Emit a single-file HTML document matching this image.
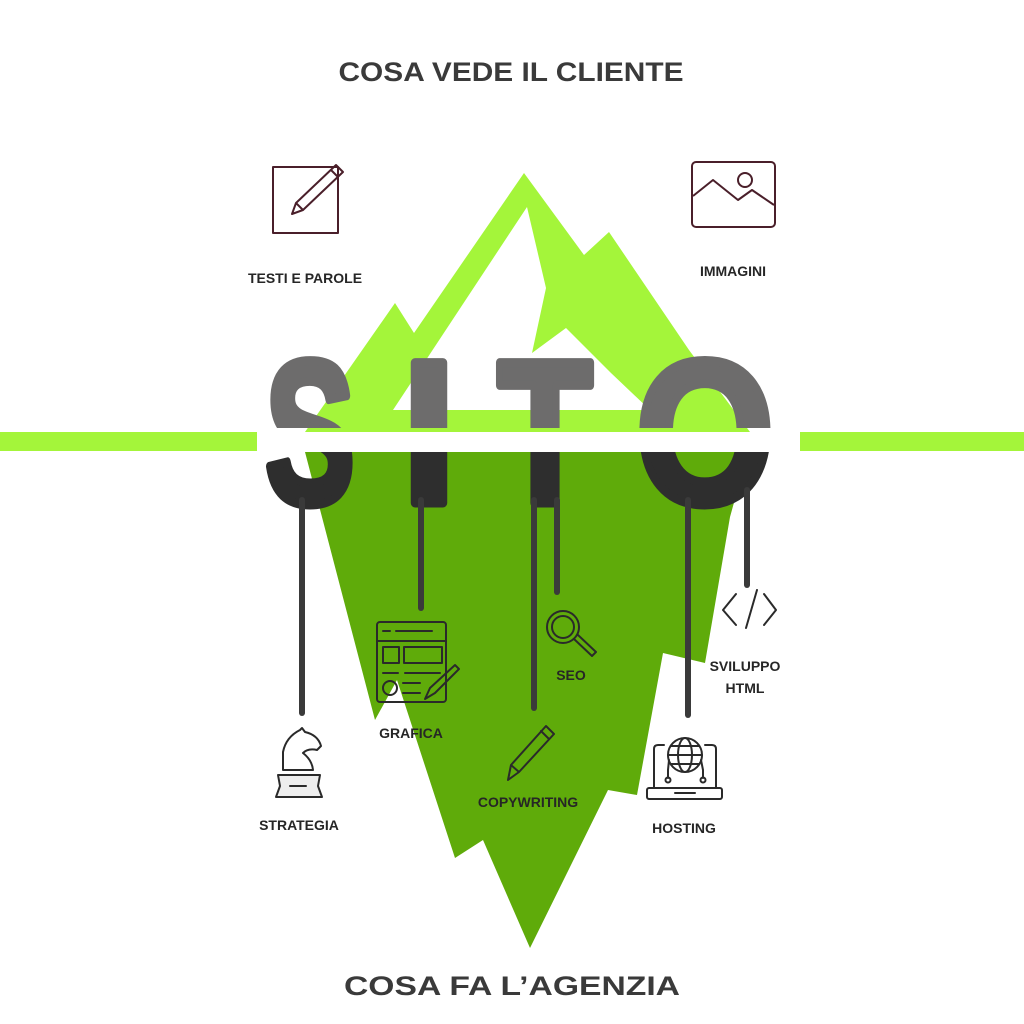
<!DOCTYPE html>
<html><head><meta charset="utf-8"><style>
html,body{margin:0;padding:0;background:#fff;}
svg{display:block;}
.lbl{font-family:"Liberation Sans",sans-serif;font-size:14px;font-weight:bold;fill:#262626;text-anchor:middle;}
.ic{fill:none;stroke:#2a2a2a;stroke-width:2;stroke-linecap:round;stroke-linejoin:round;}
.mr{fill:none;stroke:#4a1f2a;stroke-width:2;stroke-linejoin:round;}
</style></head><body>
<svg width="1024" height="1024" viewBox="0 0 1024 1024" xmlns="http://www.w3.org/2000/svg">
<defs>
<clipPath id="top"><rect x="0" y="0" width="1024" height="428"/></clipPath>
<clipPath id="bot"><rect x="0" y="452" width="1024" height="572"/></clipPath>
</defs>
<rect width="1024" height="1024" fill="#fff"/>
<!-- titles -->
<text x="511" y="81" textLength="345" lengthAdjust="spacingAndGlyphs" font-family="Liberation Sans,sans-serif" font-weight="bold" font-size="27" fill="#3a3a3a" text-anchor="middle">COSA VEDE IL CLIENTE</text>
<text x="512" y="995" textLength="336" lengthAdjust="spacingAndGlyphs" font-family="Liberation Sans,sans-serif" font-weight="bold" font-size="27" fill="#3a3a3a" text-anchor="middle">COSA FA L’AGENZIA</text>

<!-- upper mountain -->
<path d="M524,173 L584,255 L609,232 L689,350 L750,432 L305,432 L395,303 L414,333 Z" fill="#a4f53a"/>
<path d="M527,207 L546,288 L532,353 L566,328 L611,373 L650,410 L393,410 Z" fill="#fff"/>
<!-- lower iceberg -->
<path d="M305,452 L748,452 L730,517 L705,663 L663,653 L637,795 L608,790 L530,948 L483,840 L455,858 L397,680 L375,720 Z" fill="#5fab0a"/>

<!-- side water lines -->
<rect x="0" y="432" width="257" height="19" fill="#a4f53a"/>
<rect x="800" y="432" width="224" height="19" fill="#a4f53a"/>

<!-- SITO -->
<g font-family="Liberation Sans,sans-serif" font-weight="bold" font-size="204" text-anchor="middle" stroke-width="9" stroke-linejoin="round">
<g clip-path="url(#top)" fill="#6d6c6c" stroke="#6d6c6c">
<text transform="translate(310,503) scale(0.66,1)">S</text>
<text transform="translate(429,503) scale(0.95,1)">I</text>
<text transform="translate(545,503) scale(0.76,1)">T</text>
<text transform="translate(705,503) scale(0.87,1)">O</text>
</g>
<g clip-path="url(#bot)" fill="#2e2e2e" stroke="#2e2e2e">
<text transform="translate(310,503) scale(0.66,1)">S</text>
<text transform="translate(429,503) scale(0.95,1)">I</text>
<text transform="translate(545,503) scale(0.76,1)">T</text>
<text transform="translate(705,503) scale(0.87,1)">O</text>
</g>
</g>

<!-- hanging lines -->
<g stroke="#3a3a3a" stroke-width="6" stroke-linecap="round">
<line x1="302" y1="500" x2="302" y2="713"/>
<line x1="421" y1="500" x2="421" y2="608"/>
<line x1="534" y1="500" x2="534" y2="708"/>
<line x1="557" y1="500" x2="557" y2="592"/>
<line x1="688" y1="500" x2="688" y2="715"/>
<line x1="747" y1="490" x2="747" y2="585"/>
</g>

<!-- top icons -->
<rect x="273" y="167" width="65" height="66" class="mr"/>
<path d="M292,214 L296,203 L336,165 L343,172 L303,210 Z M296,203 L303,210 M331,170 L338,177" class="mr" fill="#eee"/>
<rect x="692" y="162" width="83" height="65" rx="4" class="mr"/>
<path d="M693,196 L713,180 L738,200 L752,190 L774,205" class="mr"/>
<circle cx="745" cy="180" r="7" class="mr" fill="#e8e8e8"/>
<text x="305" y="283" class="lbl">TESTI E PAROLE</text>
<text x="733" y="276" class="lbl">IMMAGINI</text>

<!-- grafica icon -->
<g class="ic">
<rect x="377" y="622" width="69" height="80" rx="3"/>
<line x1="377" y1="641" x2="446" y2="641"/>
<line x1="383" y1="631" x2="390" y2="631"/><line x1="396" y1="631" x2="432" y2="631"/>
<rect x="383" y="647" width="16" height="16"/><rect x="404" y="647" width="38" height="16"/>
<line x1="383" y1="673" x2="398" y2="673"/><line x1="405" y1="673" x2="440" y2="673"/>
<circle cx="390" cy="688" r="7"/>
<line x1="403" y1="683" x2="420" y2="683"/><line x1="403" y1="693" x2="420" y2="693"/>
<path d="M425,699 L430,688 L455,665 L459,669 L435,693 Z"/>
</g>
<!-- knight -->
<g class="ic">
<path d="M283,770 L283,752 Q286,737 300,730 L302,728 L305,732 Q318,735 321,746 L317,750 Q308,748 303,753 Q312,760 313,770 Z"/>
<path d="M278,775 L320,775 L318,786 L322,797 L276,797 L280,786 Z" fill="#eee"/>
<line x1="290" y1="786" x2="306" y2="786"/>
</g>
<!-- magnifier -->
<g class="ic">
<circle cx="563" cy="627" r="16"/><circle cx="563" cy="627" r="11"/>
<path d="M574,639 L592,656 L596,652 L578,635"/>
</g>
<!-- pencil -->
<g class="ic"><path d="M508,780 L511,765 L546,726 L554,734 L519,772 Z M511,765 L519,772 M541,731 L549,739"/></g>
<!-- code -->
<g class="ic"><path d="M736,594 L723,610 L736,625 M746,628 L757,590 M764,594 L776,610 L764,625"/></g>
<!-- laptop -->
<g class="ic">
<path d="M654,788 L654,749 Q654,745 658,745 L664,745 M705,745 L712,745 Q716,745 716,749 L716,788"/>
<rect x="647" y="788" width="75" height="11" rx="2"/>
<line x1="675" y1="793" x2="695" y2="793"/>
<circle cx="685" cy="755" r="17"/><ellipse cx="685" cy="755" rx="7" ry="17"/>
<line x1="668" y1="755" x2="702" y2="755"/><line x1="671" y1="746" x2="699" y2="746"/><line x1="671" y1="764" x2="699" y2="764"/>
<path d="M669,760 L668,770 L668,778 M701,760 L703,770 L703,778"/>
<circle cx="668" cy="780" r="2.5"/><circle cx="703" cy="780" r="2.5"/>
</g>

<!-- labels -->
<text x="299" y="830" class="lbl">STRATEGIA</text>
<text x="411" y="738" class="lbl">GRAFICA</text>
<text x="528" y="807" class="lbl">COPYWRITING</text>
<text x="571" y="680" class="lbl">SEO</text>
<text x="745" y="671" class="lbl">SVILUPPO</text>
<text x="745" y="693" class="lbl">HTML</text>
<text x="684" y="833" class="lbl">HOSTING</text>
</svg>
</body></html>
